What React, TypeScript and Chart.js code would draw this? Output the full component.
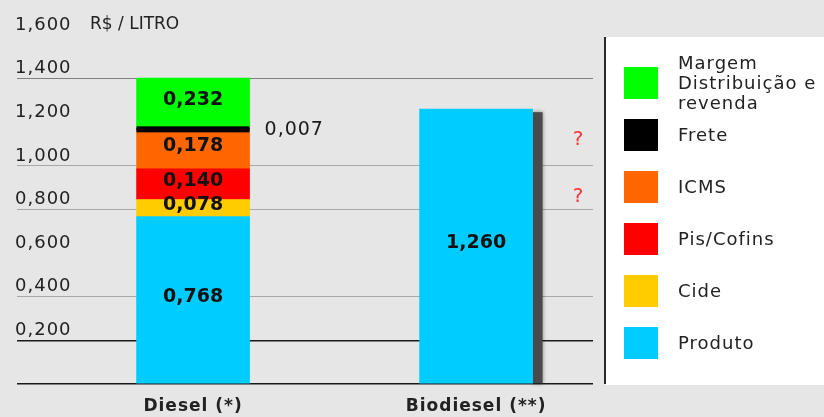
import React, { useEffect, useRef } from "react";
import { Chart, registerables } from "chart.js";

Chart.register(...registerables);

// ---------- data ----------
const categories = ["Diesel (*)", "Biodiesel (**)"];
const seriesNames = ["Produto", "Cide", "Pis/Cofins", "ICMS", "Frete", "Margem\nDistribuição e\nrevenda"];
const seriesColors = ["#00ccff", "#ffcc00", "#ff0000", "#ff6600", "#000000", "#00ff00"];
const produto = [0.768, 1.26];
const cide = [0.078, null];
const pisCofins = [0.14, null];
const icms = [0.178, null];
const frete = [0.007, null];
const margem = [0.232, null];
const seriesValues = [produto, cide, pisCofins, icms, frete, margem];
const yMax = 1.6;
const yStep = 0.2;
const unitLabel = "R$ / LITRO";
const strongGridValues = [0, 0.2];
const midGridValues = [1.4];
const softGridValues = [0.4, 0.8, 1.0];
const unknownMarks = [
  { x: 1.36, y: 1.12, text: "?" },
  { x: 1.36, y: 0.86, text: "?" },
];
const FRETE_INDEX = 4;

// ---------- style ----------
const BG = "#e6e6e6";
const FONT = "DejaVu Sans";
const X_MIN = -0.622;
const X_MAX = 1.413;
const LABEL_OFFSET = -10;

const fmt = (v: number) => v.toFixed(3).replace(".", ",");

const customPlugin = {
  id: "customDraw",
  beforeDraw(chart: any) {
    const ctx = chart.ctx;
    ctx.save();
    ctx.fillStyle = BG;
    ctx.fillRect(0, 0, chart.width, chart.height);
    ctx.restore();
    try {
      ctx.letterSpacing = "1px";
    } catch (e) {}
  },
  beforeDatasetsDraw(chart: any) {
    const ctx = chart.ctx;
    const meta = chart.getDatasetMeta(0);
    const el = meta.data[1];
    if (!el) return;
    const { x, y, base, width } = el.getProps(["x", "y", "base", "width"], true);
    ctx.save();
    ctx.fillStyle = "#4a4a4a";
    ctx.shadowColor = "rgba(0,0,0,0.45)";
    ctx.shadowBlur = 4;
    ctx.fillRect(x + width / 2, y + 3, 10, base - y - 3);
    ctx.restore();
  },
  afterDatasetsDraw(chart: any) {
    const ctx = chart.ctx;
    chart.data.datasets.forEach((ds: any, i: number) => {
      const meta = chart.getDatasetMeta(i);
      meta.data.forEach((el: any, j: number) => {
        const { x, y, base, width } = el.getProps(["x", "y", "base", "width"], true);
        const v = ds.data[j].y;
        const cy = (y + base) / 2;
        ctx.save();
        if (i === FRETE_INDEX) {
          ctx.fillStyle = "#000";
          ctx.fillRect(x - width / 2, cy - 3, width, 6);
          ctx.letterSpacing = "1px";
          ctx.font = `19px "${FONT}"`;
          ctx.fillStyle = "#1a1a1a";
          ctx.textAlign = "left";
          ctx.textBaseline = "middle";
          ctx.fillText(fmt(v), x + width / 2 + 15, cy + 1);
        } else {
          ctx.letterSpacing = "0px";
          ctx.font = `bold 19px "${FONT}"`;
          ctx.fillStyle = "#111";
          ctx.textAlign = "center";
          ctx.textBaseline = "middle";
          ctx.fillText(fmt(v), x, cy - 3);
        }
        ctx.restore();
      });
    });
    // question marks
    ctx.save();
    ctx.letterSpacing = "0px";
    ctx.font = `20px "${FONT}"`;
    ctx.fillStyle = "#ff3333";
    ctx.textAlign = "center";
    ctx.textBaseline = "middle";
    unknownMarks.forEach((m) => {
      ctx.fillText(m.text, chart.scales.x.getPixelForValue(m.x), chart.scales.y.getPixelForValue(m.y));
    });
    ctx.restore();
  },
  afterDraw(chart: any) {
    const ctx = chart.ctx;
    const area = chart.chartArea;
    // unit label next to the top tick
    ctx.save();
    ctx.letterSpacing = "0px";
    ctx.font = `17px "${FONT}"`;
    ctx.fillStyle = "#222";
    ctx.textAlign = "left";
    ctx.textBaseline = "middle";
    ctx.fillText(unitLabel, area.left + 73, chart.scales.y.getPixelForValue(yMax) + LABEL_OFFSET);
    ctx.restore();

    const left = area.right + 12;
    const top = area.top + 2;
    const bottom = area.bottom + 1;
    ctx.save();
    ctx.fillStyle = "#ffffff";
    ctx.fillRect(left, top, chart.width - left, bottom - top);
    ctx.fillStyle = "#2a2a2a";
    ctx.fillRect(left - 1, top, 2, bottom - top - 1);
    const items = chart.data.datasets.slice().reverse();
    ctx.letterSpacing = "1px";
    items.forEach((ds: any, k: number) => {
      const boxTop = area.top + 32 + k * 52;
      ctx.fillStyle = ds.backgroundColor;
      ctx.fillRect(left + 19, boxTop, 34, 32);
      const lines = String(ds.label).split("\n");
      const cy = boxTop + 17;
      ctx.fillStyle = "#222";
      ctx.font = `18px "${FONT}"`;
      ctx.textAlign = "left";
      ctx.textBaseline = "middle";
      lines.forEach((ln: string, li: number) => {
        ctx.fillText(ln, left + 73, cy + (li - (lines.length - 1) / 2) * 20);
      });
    });
    ctx.restore();
  },
};

const near = (arr: number[], v: number) => arr.some((a) => Math.abs(a - v) < 1e-6);

export default function App() {
  const ref = useRef<HTMLCanvasElement>(null);
  useEffect(() => {
    document.body.style.margin = "0";
    const datasets = seriesNames.map((name, i) => ({
      label: name,
      backgroundColor: seriesColors[i],
      borderWidth: 0,
      barThickness: 113,
      data: seriesValues[i]
        .map((v, j) => (v === null ? null : { x: j, y: v }))
        .filter((p) => p !== null),
    }));
    const chart = new Chart(ref.current as HTMLCanvasElement, {
      type: "bar",
      data: { datasets } as any,
      options: {
        responsive: false,
        animation: false,
        layout: { padding: { left: 17, right: 231, top: 35, bottom: 0 } },
        plugins: { legend: { display: false }, tooltip: { enabled: false } },
        scales: {
          x: {
            type: "linear",
            min: X_MIN,
            max: X_MAX,
            offset: false,
            stacked: true,
            grid: { display: false },
            border: { display: false },
            afterBuildTicks: (s: any) => {
              s.ticks = categories.map((_, i) => ({ value: i }));
            },
            afterFit: (s: any) => {
              s.height = 33;
            },
            ticks: {
              autoSkip: false,
              maxRotation: 0,
              padding: 4,
              color: "#222",
              font: { family: FONT, size: 17, weight: "bold" },
              callback: (v: any) => categories[Math.round(Number(v))] ?? "",
            },
          },
          y: {
            min: 0,
            max: yMax,
            stacked: true,
            border: { display: false },
            afterFit: (s: any) => {
              s.width = 0;
            },
            grid: {
              drawTicks: false,
              color: (c: any) => {
                const v = c.tick ? c.tick.value : -1;
                if (near(strongGridValues, v)) return "#1a1a1a";
                if (near(midGridValues, v)) return "#808080";
                if (near(softGridValues, v)) return "#a8a8a8";
                return "rgba(0,0,0,0)";
              },
              lineWidth: (c: any) => {
                const v = c.tick ? c.tick.value : -1;
                return near(strongGridValues, v) ? 1.5 : 1;
              },
            },
            ticks: {
              stepSize: yStep,
              mirror: true,
              padding: -2,
              labelOffset: LABEL_OFFSET,
              color: "#222",
              font: { family: FONT, size: 18 },
              callback: (v: any) => {
                const n = Number(v);
                if (n <= 1e-6) return "";
                return fmt(n);
              },
            },
          },
        },
      } as any,
      plugins: [customPlugin],
    });
    return () => chart.destroy();
  }, []);
  return (
    <div style={{ width: 824, height: 417 }}>
      <canvas ref={ref} width={824} height={417} style={{ display: "block" }} />
    </div>
  );
}
